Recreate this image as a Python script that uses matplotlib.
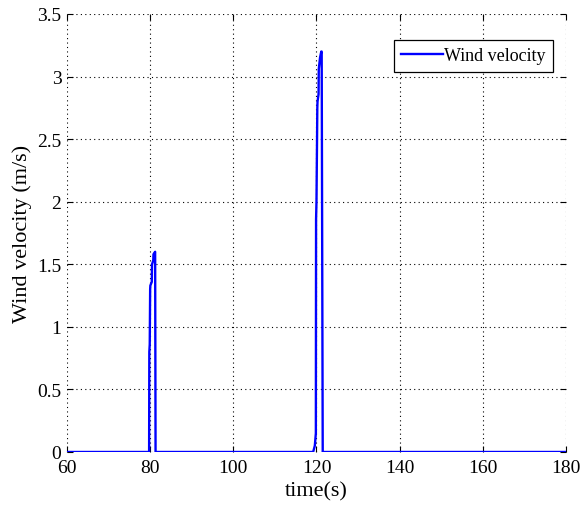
import matplotlib
matplotlib.use("Agg")
import matplotlib.pyplot as plt

plt.rcParams["font.family"] = ["Liberation Serif", "DejaVu Serif"]

# wind velocity profile (s, m/s)
time_s = [60, 79.75, 79.8, 79.9, 80.0, 80.05, 80.4, 80.45, 80.75, 80.8, 81.2, 81.3,
          119.2, 119.6, 119.85, 119.9, 120.0, 120.2, 120.25, 120.5, 120.55, 120.85,
          121.15, 121.25, 121.5, 180]
wind_v = [0, 0, 0.80, 0.86, 1.30, 1.33, 1.36, 1.50, 1.53, 1.58, 1.60, 0,
          0, 0.05, 0.15, 1.86, 2.00, 2.75, 2.80, 2.86, 3.06, 3.15,
          3.20, 3.20, 0, 0]

xticks = [60, 80, 100, 120, 140, 160, 180]
yticks = [0, 0.5, 1, 1.5, 2, 2.5, 3, 3.5]

fig = plt.figure(figsize=(5.85, 5.10), dpi=100)
ax = fig.add_axes([0.1145, 0.1118, 0.853, 0.8588])

ax.plot(time_s, wind_v, color="#0000ff", lw=1.7, label="Wind velocity", zorder=3)

ax.set_xlim(60, 180)
ax.set_ylim(0, 3.5)
ax.set_xticks(xticks)
ax.set_yticks(yticks)
ax.set_yticklabels(["0", "0.5", "1", "1.5", "2", "2.5", "3", "3.5"])

for s in ax.spines.values():
    s.set_visible(False)
ax.grid(True, color="black", linestyle=(0, (1, 3)), lw=0.8)
ax.tick_params(direction="in", length=4, width=0.8, labelsize=14,
               top=True, right=True)
ax.tick_params(axis="x", pad=5)
ax.tick_params(axis="y", pad=4)

ax.set_xlabel("time(s)", fontsize=16, labelpad=4)
ax.set_ylabel("Wind velocity (m/s)", fontsize=16, labelpad=4)

leg = ax.legend(loc="upper right", bbox_to_anchor=(0.973, 0.94),
                fontsize=13, fancybox=False, framealpha=1,
                handlelength=2.3, handletextpad=0.05, borderpad=0.4,
                borderaxespad=0)
leg.get_frame().set_edgecolor("black")
leg.get_frame().set_linewidth(0.9)

fig.savefig("out.png", dpi=100)
